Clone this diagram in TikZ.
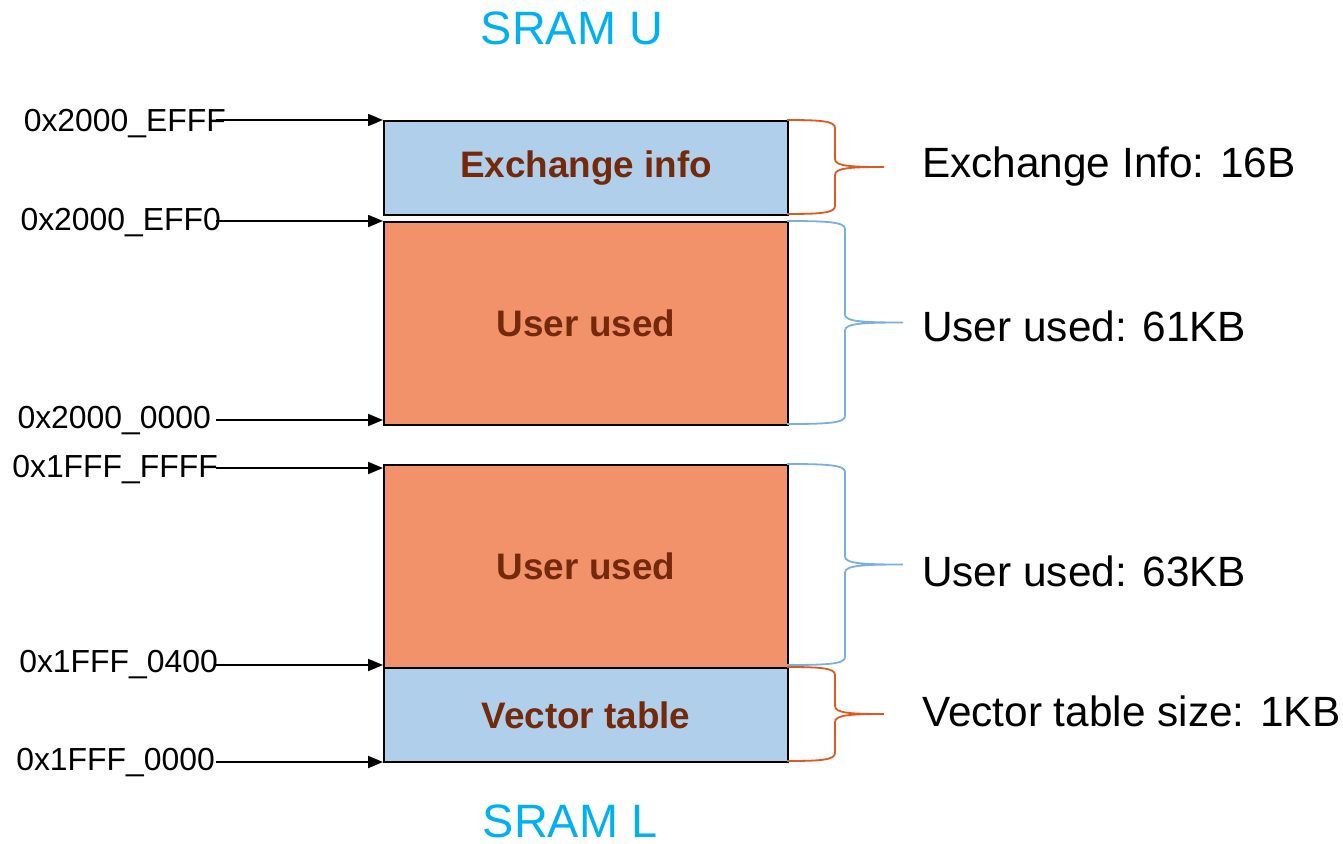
\documentclass[tikz,border=0pt]{standalone}
\usepackage{fontspec}
\setmainfont{Liberation Sans}
\usetikzlibrary{arrows.meta,calc}

\definecolor{regblue}{HTML}{AFCFEA}
\definecolor{regorange}{HTML}{F1926A}
\definecolor{regtext}{HTML}{74290B}
\definecolor{sramcyan}{HTML}{00B0F0}
\definecolor{braceorange}{HTML}{E0581D}
\definecolor{braceblue}{HTML}{7AB0DE}

% right-hand size brace: style, x of box edge, top y, bottom y, x of the stem, x of the tip
\newcommand\sizebrace[6]{%
  \pgfmathsetmacro\bracemid{(#3+#4)/2}%
  \draw[#1] (#2,#3)
    .. controls ({#2+0.7*(#5-#2)},#3) and (#5,{#3+1}) .. (#5,{#3+8})
    -- (#5,{\bracemid-8})
    .. controls (#5,{\bracemid-1}) and ({#5+0.3*(#6-#5)},\bracemid) .. (#6,\bracemid)
    .. controls ({#5+0.3*(#6-#5)},\bracemid) and (#5,{\bracemid+1}) .. (#5,{\bracemid+8})
    -- (#5,{#4-8})
    .. controls (#5,{#4-1}) and ({#2+0.7*(#5-#2)},#4) .. (#2,#4);}

\begin{document}
\begin{tikzpicture}[x=1bp,y=-1bp,
  region/.style={draw=black,line width=2bp,inner sep=0pt,anchor=north west,
    minimum width=404bp,text=regtext,font=\fontsize{37}{41}\selectfont\bfseries},
  bluereg/.style={region,fill=regblue},
  orangereg/.style={region,fill=regorange},
  addr/.style={anchor=east,inner sep=0pt,font=\fontsize{32}{36}\selectfont},
  addrarrow/.style={line width=2bp,-{Triangle[length=15bp,width=12bp]}},
  sizelabel/.style={anchor=west,inner sep=0pt,font=\fontsize{42.5}{48}\selectfont},
  sramlabel/.style={text=sramcyan,inner sep=0pt,font=\fontsize{47}{52}\selectfont},
  obrace/.style={draw=braceorange,line width=1.8bp},
  bbrace/.style={draw=braceblue,line width=1.8bp}]

\useasboundingbox (0,0) rectangle (1343,843);

% memory regions
\node[bluereg,minimum height=94bp] (xinfo) at (383,120) {Exchange info};
\node[orangereg,minimum height=203bp] (userU) at (383,221) {User used};
\node[orangereg,minimum height=203bp] (userL) at (383,464) {User used};
\node[bluereg,minimum height=94bp] (vtab) at (383,667) {Vector table};

% bank titles
\node[sramlabel] (sramU) at (572,28) {SRAM U};
\node[sramlabel] (sramL) at (570,821) {SRAM L};

% addresses
\node[addr] (a1) at (226,124) {0x2000\_EFFF};
\node[addr] (a2) at (221,223) {0x2000\_EFF0};
\node[addr] (a3) at (211,421) {0x2000\_0000};
\node[addr] (a4) at (218,470) {0x1FFF\_FFFF};
\node[addr] (a5) at (218,665) {0x1FFF\_0400};
\node[addr] (a6) at (215,763) {0x1FFF\_0000};

\coordinate (s1) at (216,120);
\coordinate (s2) at (216,221);
\coordinate (s3) at (216,420);
\coordinate (s4) at (216,468);
\coordinate (s5) at (216,665);
\coordinate (s6) at (216,762);
\draw[addrarrow] (s1) -- (s1 -| xinfo.west);
\draw[addrarrow] (s2) -- (s2 -| userU.west);
\draw[addrarrow] (s3) -- (s3 -| userU.west);
\draw[addrarrow] (s4) -- (s4 -| userL.west);
\draw[addrarrow] (s5) -- (s5 -| vtab.west);
\draw[addrarrow] (s6) -- (s6 -| vtab.west);

% size braces
\sizebrace{obrace}{787}{120}{214}{835}{884}
\sizebrace{bbrace}{787}{221}{424}{845}{903}
\sizebrace{bbrace}{787}{464}{665}{845}{903}
\sizebrace{obrace}{787}{667}{761}{835}{884}

% sizes
\node[sizelabel] (z1) at (922,167) {Exchange Info: 16B};
\node[sizelabel] (z2) at (922,326) {User used: 61KB};
\node[sizelabel] (z3) at (922,571) {User used: 63KB};
\node[sizelabel] (z4) at (922,711) {Vector table size: 1KB};
\end{tikzpicture}
\end{document}
